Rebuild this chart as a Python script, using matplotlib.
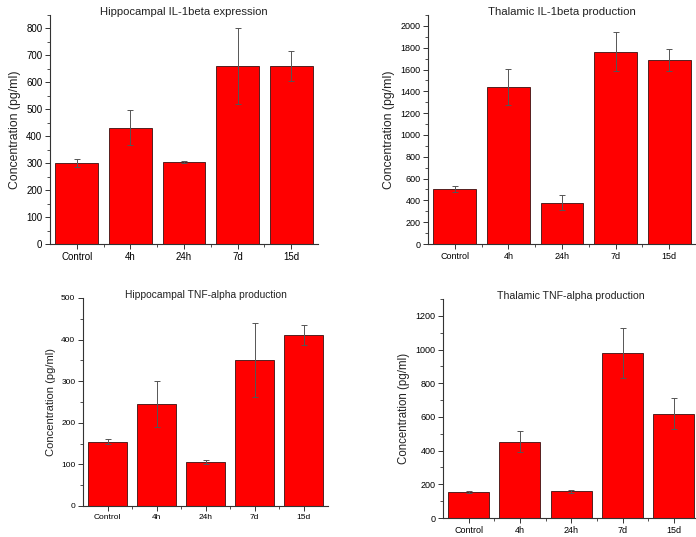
import matplotlib
matplotlib.use("Agg")
import matplotlib.pyplot as plt
from matplotlib.ticker import MultipleLocator, FixedLocator
import numpy as np

plt.rcParams['font.family'] = ['Liberation Sans', 'DejaVu Sans']

groups = ["Control", "4h", "24h", "7d", "15d"]

hip_il1_mean = [300, 432, 305, 662, 662]
hip_il1_err = [15, 64, 3, 141, 56]

thal_il1_mean = [505, 1440, 380, 1762, 1685]
thal_il1_err = [28, 162, 70, 180, 102]

hip_tnf_mean = [155, 245, 105, 352, 411]
hip_tnf_err = [7, 55, 5, 89, 24]

thal_tnf_mean = [155, 452, 158, 978, 620]
thal_tnf_err = [5, 63, 11, 147, 90]

W, H = 696, 537
fig = plt.figure(figsize=(W / 100, H / 100), dpi=100)


def box(left, top, right, bottom):
    return [left / W, (H - bottom) / H, (right - left) / W, (bottom - top) / H]


def panel(rect, means, errs, title, ymax, major, minor, fs_tick, fs_label, fs_title, title_y):
    ax = fig.add_axes(rect)
    x = np.arange(len(groups))
    ax.bar(x, means, width=0.8, color="#ff0000", edgecolor="#3a1010", linewidth=0.6, zorder=2)
    ax.errorbar(x, means, yerr=errs, fmt="none", ecolor="#555555", elinewidth=0.7,
                capsize=2.5, capthick=0.7, zorder=3)
    ax.set_xlim(-0.5, 4.5)
    ax.set_ylim(0, ymax)
    ax.set_xticks(x)
    ax.set_xticklabels(groups, fontsize=fs_tick)
    ax.xaxis.set_minor_locator(FixedLocator(x[:-1] + 0.5))
    ax.yaxis.set_major_locator(MultipleLocator(major))
    ax.yaxis.set_minor_locator(MultipleLocator(minor))
    ax.tick_params(axis="y", labelsize=fs_tick)
    ax.tick_params(which="major", direction="out", length=3.5, width=0.7, color="#333333", pad=2)
    ax.tick_params(which="minor", direction="out", length=2, width=0.6, color="#333333")
    for s in ("top", "right"):
        ax.spines[s].set_visible(False)
    for s in ("left", "bottom"):
        ax.spines[s].set_linewidth(0.8)
        ax.spines[s].set_color("#333333")
    ax.set_ylabel("Concentration (pg/ml)", fontsize=fs_label, color="#222222")
    ax.set_title(title, fontsize=fs_title, color="#222222", y=title_y, pad=0)
    return ax


panel(box(50, 15, 318, 244), hip_il1_mean, hip_il1_err,
      "Hippocampal IL-1beta expression", 850, 100, 50, 7, 8.8, 8.1, 1.0)
panel(box(428, 15, 696, 244), thal_il1_mean, thal_il1_err,
      "Thalamic IL-1beta production", 2100, 200, 100, 6.5, 8.8, 8.2, 1.0)
panel(box(83, 298, 328, 506), hip_tnf_mean, hip_tnf_err,
      "Hippocampal TNF-alpha production", 500, 100, 50, 6, 8, 7.4, 1.0)
panel(box(443, 299, 699.5, 518), thal_tnf_mean, thal_tnf_err,
      "Thalamic TNF-alpha production", 1300, 200, 100, 6.5, 8.3, 7.6, 1.0)

fig.savefig("out.png", dpi=100)
